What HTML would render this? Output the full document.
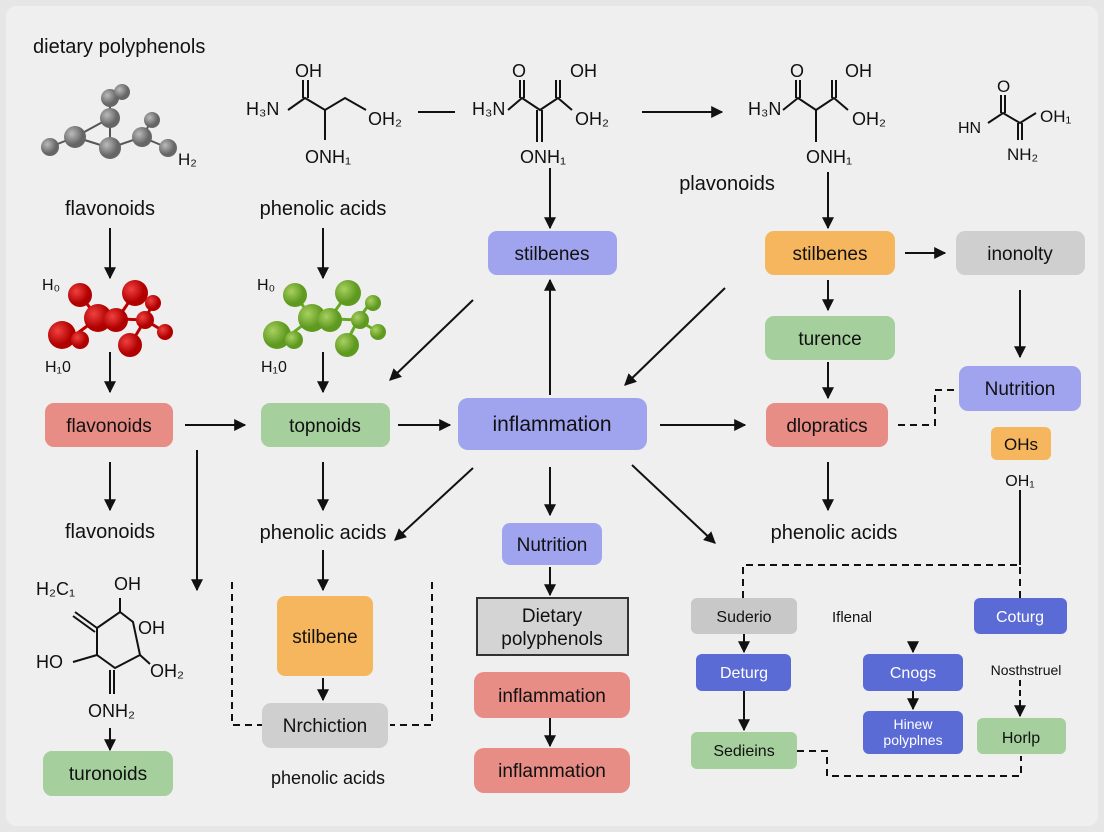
<!DOCTYPE html>
<html><head><meta charset="utf-8"><style>
html,body{margin:0;padding:0;background:#ececec}
svg{display:block}
text{font-family:"Liberation Sans",sans-serif;fill:#111}
</style></head><body>
<svg width="1104" height="832" viewBox="0 0 1104 832" xmlns="http://www.w3.org/2000/svg">
<defs>
<marker id="a" viewBox="0 0 10 10" refX="9" refY="5" markerWidth="12" markerHeight="12" markerUnits="userSpaceOnUse" orient="auto"><path d="M0,0L10,5L0,10z" fill="#111"/></marker>
<radialGradient id="gr" cx="35%" cy="35%"><stop offset="0" stop-color="#bbb"/><stop offset="1" stop-color="#666"/></radialGradient>
<radialGradient id="rd" cx="35%" cy="35%"><stop offset="0" stop-color="#f04040"/><stop offset="1" stop-color="#b00000"/></radialGradient>
<radialGradient id="gn" cx="35%" cy="35%"><stop offset="0" stop-color="#a8d060"/><stop offset="1" stop-color="#5f9a20"/></radialGradient>
</defs>
<rect width="1104" height="832" fill="#e6e6e6"/>
<rect x="6" y="6" width="1092" height="820" rx="10" fill="#efefef"/>
<g font-size="20">
<text x="33" y="53" font-size="20">dietary polyphenols</text>
<text x="110" y="215" text-anchor="middle">flavonoids</text>
<text x="323" y="215" text-anchor="middle">phenolic acids</text>
<text x="727" y="190" text-anchor="middle">plavonoids</text>
<text x="110" y="538" text-anchor="middle">flavonoids</text>
<text x="323" y="539" text-anchor="middle">phenolic acids</text>
<text x="834" y="539" text-anchor="middle">phenolic acids</text>
<text x="328" y="784" text-anchor="middle" font-size="18">phenolic acids</text>
</g>
<g stroke="#555" stroke-width="2">
<line x1="50" y1="147" x2="75" y2="137"/><line x1="75" y1="137" x2="110" y2="148"/><line x1="75" y1="137" x2="110" y2="118"/><line x1="110" y1="118" x2="110" y2="148"/><line x1="110" y1="118" x2="110" y2="98"/><line x1="110" y1="148" x2="142" y2="137"/><line x1="142" y1="137" x2="152" y2="120"/><line x1="142" y1="137" x2="168" y2="148"/>
</g>
<g fill="url(#gr)"><circle cx="50" cy="147" r="9"/><circle cx="75" cy="137" r="11"/><circle cx="110" cy="118" r="10"/><circle cx="110" cy="148" r="11"/><circle cx="110" cy="98" r="9"/><circle cx="122" cy="92" r="8"/><circle cx="142" cy="137" r="10"/><circle cx="152" cy="120" r="8"/><circle cx="168" cy="148" r="9"/></g>
<text x="178" y="165" font-size="17">H₂</text>
<g stroke="#b00" stroke-width="3"><line x1="80" y1="295" x2="98" y2="318"/><line x1="135" y1="293" x2="118" y2="318"/><line x1="98" y1="318" x2="145" y2="320"/><line x1="75" y1="335" x2="98" y2="318"/><line x1="130" y1="345" x2="145" y2="320"/><line x1="145" y1="320" x2="153" y2="303"/><line x1="145" y1="320" x2="165" y2="332"/></g>
<g fill="url(#rd)"><circle cx="80" cy="295" r="12"/><circle cx="135" cy="293" r="13"/><circle cx="98" cy="318" r="14"/><circle cx="116" cy="320" r="12"/><circle cx="62" cy="335" r="14"/><circle cx="80" cy="340" r="9"/><circle cx="130" cy="345" r="12"/><circle cx="145" cy="320" r="9"/><circle cx="153" cy="303" r="8"/><circle cx="165" cy="332" r="8"/></g>
<text x="42" y="290" font-size="16">H₀</text><text x="45" y="372" font-size="16">H₁0</text>
<g stroke="#6a2" stroke-width="3"><line x1="295" y1="295" x2="312" y2="318"/><line x1="348" y1="293" x2="330" y2="318"/><line x1="312" y1="318" x2="358" y2="320"/><line x1="290" y1="335" x2="312" y2="318"/><line x1="345" y1="345" x2="358" y2="320"/><line x1="358" y1="320" x2="370" y2="303"/><line x1="358" y1="320" x2="378" y2="332"/></g>
<g fill="url(#gn)"><circle cx="295" cy="295" r="12"/><circle cx="348" cy="293" r="13"/><circle cx="312" cy="318" r="14"/><circle cx="330" cy="320" r="12"/><circle cx="277" cy="335" r="14"/><circle cx="294" cy="340" r="9"/><circle cx="347" cy="345" r="12"/><circle cx="360" cy="320" r="9"/><circle cx="373" cy="303" r="8"/><circle cx="378" cy="332" r="8"/></g>
<text x="257" y="290" font-size="16">H₀</text><text x="261" y="372" font-size="16">H₁0</text>
<g stroke="#111" stroke-width="2" fill="none">
<path d="M288,110 L305,98 L325,110 L345,98 L366,110"/><line x1="303" y1="98" x2="303" y2="80"/><line x1="308" y1="98" x2="308" y2="80"/><line x1="325" y1="110" x2="325" y2="140"/>
<path d="M508,110 L522,98 L540,110 L558,98 L572,110"/><line x1="520" y1="98" x2="520" y2="80"/><line x1="524" y1="98" x2="524" y2="80"/><line x1="556" y1="98" x2="556" y2="80"/><line x1="560" y1="98" x2="560" y2="80"/><line x1="537" y1="110" x2="537" y2="142"/><line x1="542" y1="110" x2="542" y2="142"/>
<path d="M783,110 L798,98 L816,110 L834,98 L848,110"/><line x1="796" y1="98" x2="796" y2="80"/><line x1="800" y1="98" x2="800" y2="80"/><line x1="832" y1="98" x2="832" y2="80"/><line x1="836" y1="98" x2="836" y2="80"/><line x1="816" y1="110" x2="816" y2="142"/>
<path d="M988,123 L1003,113 L1020,123 L1036,113"/><line x1="1001" y1="113" x2="1001" y2="95"/><line x1="1005" y1="113" x2="1005" y2="95"/><line x1="1018" y1="123" x2="1018" y2="140"/><line x1="1022" y1="123" x2="1022" y2="140"/>
<line x1="418" y1="112" x2="455" y2="112"/>
</g>
<g font-size="18">
<text x="295" y="77">OH</text><text x="246" y="115">H₃N</text><text x="368" y="125">OH₂</text><text x="305" y="163">ONH₁</text>
<text x="512" y="77">O</text><text x="570" y="77">OH</text><text x="472" y="115">H₃N</text><text x="575" y="125">OH₂</text><text x="520" y="163">ONH₁</text>
<text x="790" y="77">O</text><text x="845" y="77">OH</text><text x="748" y="115">H₃N</text><text x="852" y="125">OH₂</text><text x="806" y="163">ONH₁</text>
<text x="997" y="92" font-size="17">O</text><text x="958" y="133" font-size="16">HN</text><text x="1040" y="122" font-size="17">OH₁</text><text x="1007" y="160" font-size="17">NH₂</text>
</g>
<g stroke="#111" stroke-width="2" fill="none">
<path d="M97,628 L120,612 L133,622 L140,655 L115,668 L97,655 Z"/><line x1="75" y1="612" x2="97" y2="628"/><line x1="73" y1="616" x2="95" y2="632"/><line x1="73" y1="662" x2="97" y2="655"/><line x1="110" y1="670" x2="110" y2="694"/><line x1="114" y1="670" x2="114" y2="694"/><line x1="120" y1="612" x2="120" y2="598"/><line x1="140" y1="655" x2="150" y2="664"/>
</g>
<g font-size="18"><text x="36" y="595">H₂C₁</text><text x="114" y="590">OH</text><text x="138" y="634">OH</text><text x="36" y="668">HO</text><text x="150" y="677">OH₂</text><text x="88" y="717">ONH₂</text></g>
<g font-size="19">
<rect x="45" y="403" width="128" height="44" rx="9" fill="#e88c86"/><text x="109" y="432" text-anchor="middle">flavonoids</text>
<rect x="261" y="403" width="129" height="44" rx="9" fill="#a5cf9c"/><text x="325" y="432" text-anchor="middle">topnoids</text>
<rect x="458" y="398" width="189" height="52" rx="10" fill="#a0a4ee"/><text x="552" y="431" text-anchor="middle" font-size="21">inflammation</text>
<rect x="766" y="403" width="122" height="44" rx="9" fill="#e88c86"/><text x="827" y="432" text-anchor="middle">dlopratics</text>
<rect x="488" y="231" width="129" height="44" rx="9" fill="#a0a4ee"/><text x="552" y="260" text-anchor="middle">stilbenes</text>
<rect x="765" y="231" width="130" height="44" rx="9" fill="#f5b65e"/><text x="830" y="260" text-anchor="middle">stilbenes</text>
<rect x="956" y="231" width="129" height="44" rx="9" fill="#cfcfcf"/><text x="1020" y="260" text-anchor="middle">inonolty</text>
<rect x="765" y="316" width="130" height="44" rx="9" fill="#a5cf9c"/><text x="830" y="345" text-anchor="middle">turence</text>
<rect x="959" y="366" width="122" height="45" rx="9" fill="#a0a4ee"/><text x="1020" y="395" text-anchor="middle">Nutrition</text>
<rect x="991" y="427" width="60" height="33" rx="6" fill="#f5b65e"/><text x="1021" y="450" text-anchor="middle" font-size="17">OHs</text>
<text x="1020" y="486" text-anchor="middle" font-size="16">OH₁</text>
<rect x="43" y="751" width="130" height="45" rx="9" fill="#a5cf9c"/><text x="108" y="780" text-anchor="middle">turonoids</text>
<rect x="277" y="596" width="96" height="80" rx="8" fill="#f5b65e"/><text x="325" y="643" text-anchor="middle">stilbene</text>
<rect x="262" y="703" width="126" height="45" rx="9" fill="#cfcfcf"/><text x="325" y="732" text-anchor="middle">Nrchiction</text>
<rect x="502" y="523" width="100" height="42" rx="8" fill="#a0a4ee"/><text x="552" y="551" text-anchor="middle">Nutrition</text>
<rect x="477" y="598" width="151" height="57" fill="#d4d4d4" stroke="#333" stroke-width="2"/><text x="552" y="622" text-anchor="middle">Dietary</text><text x="552" y="645" text-anchor="middle">polyphenols</text>
<rect x="474" y="672" width="156" height="46" rx="10" fill="#e88c86"/><text x="552" y="702" text-anchor="middle">inflammation</text>
<rect x="474" y="748" width="156" height="45" rx="10" fill="#e88c86"/><text x="552" y="777" text-anchor="middle">inflammation</text>
</g>
<g font-size="16">
<rect x="691" y="598" width="106" height="36" rx="6" fill="#c8c8c8"/><text x="744" y="622" text-anchor="middle">Suderio</text>
<text x="852" y="622" text-anchor="middle" font-size="15">Iflenal</text>
<rect x="974" y="598" width="93" height="36" rx="6" fill="#5b6bd6"/><text x="1020" y="622" text-anchor="middle" style="fill:#fff">Coturg</text>
<rect x="696" y="654" width="95" height="37" rx="6" fill="#5b6bd6"/><text x="744" y="678" text-anchor="middle" style="fill:#fff">Deturg</text>
<rect x="863" y="654" width="100" height="37" rx="6" fill="#5b6bd6"/><text x="913" y="678" text-anchor="middle" style="fill:#fff">Cnogs</text>
<rect x="863" y="711" width="100" height="43" rx="6" fill="#5b6bd6"/><text x="913" y="729" text-anchor="middle" style="fill:#fff" font-size="14">Hinew</text><text x="913" y="745" text-anchor="middle" style="fill:#fff" font-size="14">polyplnes</text>
<text x="1026" y="675" text-anchor="middle" font-size="14">Nosthstruel</text>
<rect x="977" y="718" width="89" height="36" rx="6" fill="#a5cf9c"/><text x="1021" y="743" text-anchor="middle">Horlp</text>
<rect x="691" y="732" width="106" height="37" rx="6" fill="#a5cf9c"/><text x="744" y="756" text-anchor="middle">Sedieins</text>
</g>
<g stroke="#111" stroke-width="2" fill="none" marker-end="url(#a)">
<line x1="110" y1="228" x2="110" y2="278"/><line x1="323" y1="228" x2="323" y2="278"/>
<line x1="110" y1="352" x2="110" y2="392"/><line x1="323" y1="352" x2="323" y2="392"/>
<line x1="185" y1="425" x2="245" y2="425"/><line x1="398" y1="425" x2="450" y2="425"/><line x1="660" y1="425" x2="745" y2="425"/>
<line x1="642" y1="112" x2="722" y2="112"/>
<line x1="550" y1="168" x2="550" y2="228"/><line x1="550" y1="395" x2="550" y2="280"/>
<line x1="473" y1="300" x2="390" y2="380"/><line x1="725" y1="288" x2="625" y2="385"/>
<line x1="828" y1="172" x2="828" y2="228"/><line x1="905" y1="253" x2="945" y2="253"/><line x1="1020" y1="290" x2="1020" y2="357"/>
<line x1="828" y1="280" x2="828" y2="310"/><line x1="828" y1="362" x2="828" y2="398"/><line x1="828" y1="462" x2="828" y2="510"/>
<line x1="110" y1="462" x2="110" y2="510"/><line x1="197" y1="450" x2="197" y2="590"/>
<line x1="323" y1="462" x2="323" y2="510"/><line x1="473" y1="468" x2="395" y2="540"/>
<line x1="110" y1="728" x2="110" y2="750"/>
<line x1="323" y1="550" x2="323" y2="590"/><line x1="323" y1="678" x2="323" y2="700"/>
<line x1="550" y1="467" x2="550" y2="515"/><line x1="550" y1="567" x2="550" y2="595"/><line x1="550" y1="718" x2="550" y2="746"/>
<line x1="632" y1="465" x2="715" y2="543"/>
<line x1="744" y1="634" x2="744" y2="652"/><line x1="744" y1="691" x2="744" y2="730"/>
<line x1="913" y1="642" x2="913" y2="652"/><line x1="913" y1="691" x2="913" y2="709"/>
<line x1="1020" y1="680" x2="1020" y2="716" stroke-dasharray="6,4"/>
</g>
<line x1="1020" y1="490" x2="1020" y2="565" stroke="#111" stroke-width="2"/>
<g stroke="#111" stroke-width="2" fill="none" stroke-dasharray="7,5">
<path d="M898,425 H935 V390 H958"/>
<path d="M743,598 V565 H1020 V598"/>
<path d="M232,582 V725 H262"/><path d="M432,582 V725 H390"/>
<path d="M797,751 H827 V776 H1021 V756"/>
</g>
</svg>
</body></html>
